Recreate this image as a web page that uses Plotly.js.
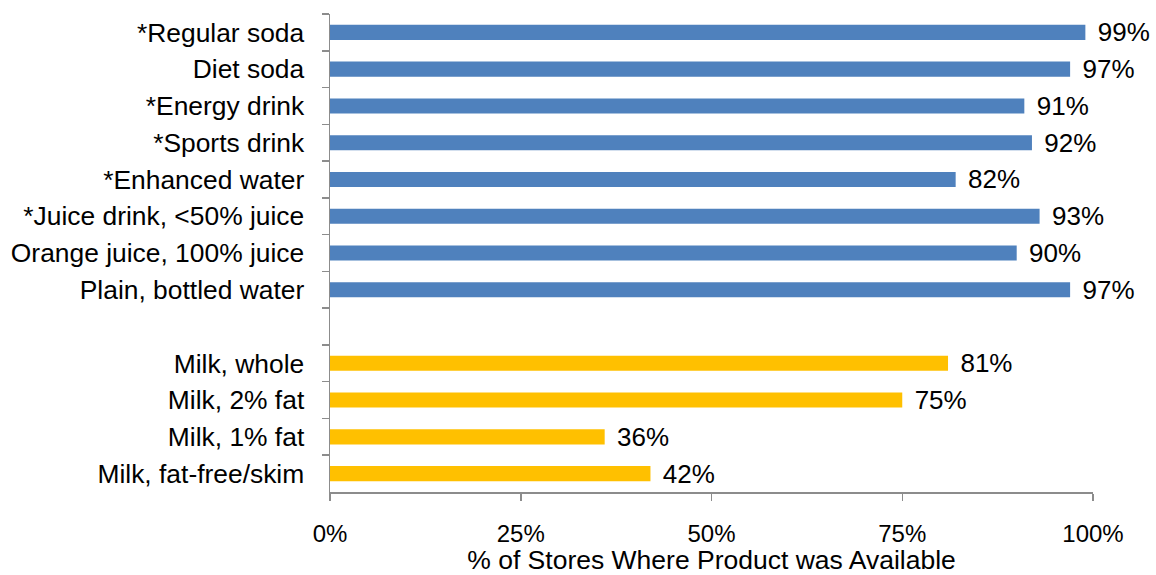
<!DOCTYPE html>
<html>
<head>
<meta charset="utf-8">
<script src="https://cdn.plot.ly/plotly-3.0.1.min.js"></script>
<style>html,body{margin:0;padding:0;background:#fff;}#chart{width:1156px;height:575px;}</style>
</head>
<body>
<div id="chart"></div>
<script>
var beverageCategories = ["*Regular soda", "Diet soda", "*Energy drink", "*Sports drink", "*Enhanced water", "*Juice drink, <50% juice", "Orange juice, 100% juice", "Plain, bottled water"];
var beverageValues = [99, 97, 91, 92, 82, 93, 90, 97];
var milkCategories = ["Milk, whole", "Milk, 2% fat", "Milk, 1% fat", "Milk, fat-free/skim"];
var milkValues = [81, 75, 36, 42];
var spacer = " ";
var xTickValues = [0, 25, 50, 75, 100];
var xTickLabels = ["0%", "25%", "50%", "75%", "100%"];
var xTitle = "% of Stores Where Product was Available";

var allCategories = beverageCategories.concat([spacer]).concat(milkCategories);
var FONT = "'Liberation Sans', Arial, sans-serif";

var common = {
  type: "bar",
  orientation: "h",
  width: 0.41,
  textposition: "outside",
  texttemplate: "\u00a0\u200a%{text}%",
  cliponaxis: false,
  constraintext: "none",
  textfont: {family: FONT, size: 26, color: "#000"},
  hoverinfo: "none"
};

var t1 = Object.assign({}, common, {
  y: beverageCategories,
  x: beverageValues,
  text: beverageValues,
  marker: {color: "#4F81BD"}
});
var t2 = Object.assign({}, common, {
  y: milkCategories,
  x: milkValues,
  text: milkValues,
  marker: {color: "#FFC000"}
});

var layout = {
  width: 1156,
  height: 575,
  margin: {l: 330, r: 63, t: 14, b: 83},
  paper_bgcolor: "#fff",
  plot_bgcolor: "#fff",
  showlegend: false,
  barmode: "overlay",
  font: {family: FONT, size: 26, color: "#000"},
  xaxis: {
    range: [0, 100],
    tickmode: "array",
    tickvals: xTickValues,
    ticktext: xTickLabels,
    showgrid: false,
    zeroline: false,
    showline: true,
    linecolor: "#8c8c8c",
    linewidth: 1.5,
    ticks: "outside",
    ticklen: 7,
    tickwidth: 1.5,
    tickcolor: "#8c8c8c",
    ticklabelstandoff: 13,
    tickfont: {family: FONT, size: 24, color: "#000"},
    title: {text: xTitle, font: {family: FONT, size: 26.5, color: "#000"}, standoff: 4},
    automargin: false,
    fixedrange: true
  },
  yaxis: {
    type: "category",
    categoryorder: "array",
    categoryarray: allCategories,
    range: [allCategories.length - 0.5, -0.5],
    showgrid: false,
    zeroline: false,
    showline: true,
    linecolor: "#8c8c8c",
    linewidth: 1.5,
    ticks: "outside",
    tickson: "boundaries",
    ticklen: 7,
    tickwidth: 1.5,
    tickcolor: "#8c8c8c",
    ticklabelstandoff: 19,
    tickfont: {family: FONT, size: 26.4, color: "#000"},
    automargin: false,
    fixedrange: true
  }
};

Plotly.newPlot("chart", [t1, t2], layout, {displayModeBar: false, staticPlot: true});
</script>
</body>
</html>
